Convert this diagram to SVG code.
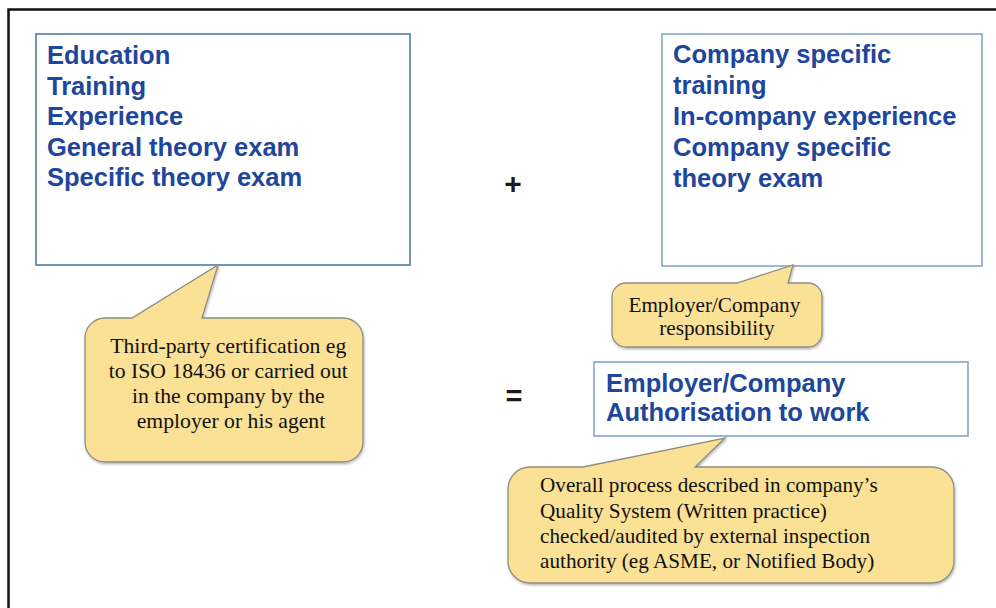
<svg xmlns="http://www.w3.org/2000/svg" width="996" height="608" viewBox="0 0 996 608">
  <defs>
    <style>
      .box { fill: #ffffff; stroke: #84a5c6; stroke-width: 1.6; }
      .box-dark { stroke: #4f7ca3; }
      .head { font-family: "Liberation Sans", Arial, sans-serif; font-weight: bold; font-size: 25.5px; fill: #20469c; }
      .op { font-family: "Liberation Sans", Arial, sans-serif; font-weight: bold; fill: #1a1a1a; text-anchor: middle; }
      .callout { fill: #fae196; stroke: #8f8f80; stroke-width: 1.3; filter: url(#shadow); }
      .note { font-family: "Liberation Serif", "Times New Roman", serif; font-size: 21.7px; fill: #111111; }
      .mid { text-anchor: middle; }
    </style>
    <filter id="shadow" x="-5%" y="-5%" width="110%" height="115%">
      <feDropShadow dx="0.8" dy="1.5" stdDeviation="1" flood-color="#000000" flood-opacity="0.3"/>
    </filter>
  </defs>

  <rect width="996" height="608" fill="#ffffff"/>

  <!-- outer frame (top and left edges) -->
  <path d="M8.5,608 V9.5 H996" fill="none" stroke="#111111" stroke-width="2.5"/>

  <!-- qualification requirements -->
  <g id="general-requirements">
    <rect class="box box-dark" x="36" y="34" width="374" height="231"/>
    <text class="head" x="47">
      <tspan x="47" y="64">Education</tspan>
      <tspan x="47" y="95">Training</tspan>
      <tspan x="47" y="125">Experience</tspan>
      <tspan x="47" y="156">General theory exam</tspan>
      <tspan x="47" y="186">Specific theory exam</tspan>
    </text>
  </g>

  <g id="company-requirements">
    <rect class="box" x="662" y="34" width="320" height="232"/>
    <text class="head">
      <tspan x="673" y="63">Company specific</tspan>
      <tspan x="673" y="94">training</tspan>
      <tspan x="673" y="125">In-company experience</tspan>
      <tspan x="673" y="156">Company specific</tspan>
      <tspan x="673" y="187">theory exam</tspan>
    </text>
  </g>

  <g id="authorisation">
    <rect class="box" x="594" y="362" width="374" height="74"/>
    <text class="head">
      <tspan x="606" y="392">Employer/Company</tspan>
      <tspan x="606" y="421">Authorisation to work</tspan>
    </text>
  </g>

  <!-- operators -->
  <g id="plus">
    <text class="op" x="513" y="194" font-size="30">+</text>
  </g>
  <g id="equals">
    <text class="op" x="514" y="406" font-size="29">=</text>
  </g>

  <!-- speech-bubble notes -->
  <g id="certification-note">
    <path class="callout" d="M105,318 H132 L218,265 L202,318 H343 A20,20 0 0 1 363,338 V442 A20,20 0 0 1 343,462 H105 A20,20 0 0 1 85,442 V338 A20,20 0 0 1 105,318 Z"/>
    <text class="note mid">
      <tspan x="231" y="353">Third-party certification eg</tspan>
      <tspan x="231" y="378">to ISO 18436 or carried out</tspan>
      <tspan x="231" y="403">in the company by the</tspan>
      <tspan x="231" y="428">employer or his agent</tspan>
    </text>
  </g>

  <g id="responsibility-note">
    <path class="callout" d="M626,283 H737 L793,265 L788,283 H808 A14,14 0 0 1 822,297 V333 A14,14 0 0 1 808,347 H626 A14,14 0 0 1 612,333 V297 A14,14 0 0 1 626,283 Z"/>
    <text class="note mid" style="font-size:21.2px">
      <tspan x="717" y="312">Employer/Company</tspan>
      <tspan x="717" y="335">responsibility</tspan>
    </text>
  </g>

  <g id="quality-system-note">
    <path class="callout" d="M530,467 H583 L725,438 L695,467 H932 A22,22 0 0 1 954,489 V561 A22,22 0 0 1 932,583 H530 A22,22 0 0 1 508,561 V489 A22,22 0 0 1 530,467 Z"/>
    <text class="note" style="font-size:21.2px">
      <tspan x="540" y="492">Overall process described in company’s</tspan>
      <tspan x="540" y="518">Quality System (Written practice)</tspan>
      <tspan x="540" y="543">checked/audited by external inspection</tspan>
      <tspan x="540" y="568">authority (eg ASME, or Notified Body)</tspan>
    </text>
  </g>
</svg>
